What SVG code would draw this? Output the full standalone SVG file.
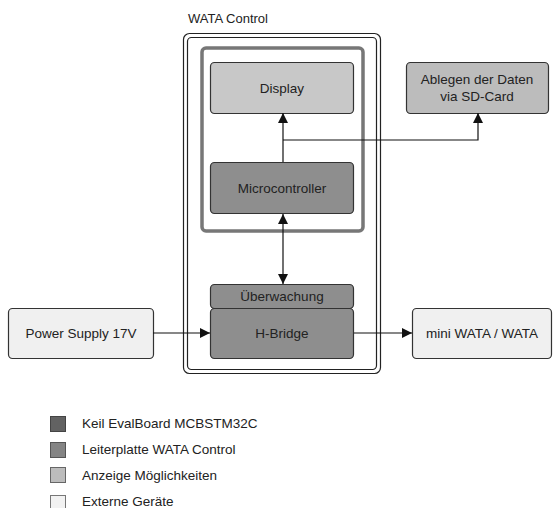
<svg xmlns="http://www.w3.org/2000/svg" width="553" height="508" viewBox="0 0 553 508">
<defs>
<style>
text{font-family:"Liberation Sans",Arial,sans-serif;font-size:13.5px;fill:#222;}
.c{text-anchor:middle;}
.box{stroke:#333;stroke-width:1.2;}
.ext{fill:#f0f0f0;}
.disp{fill:#c8c8c8;}
.sd{fill:#bcbcbc;}
.pcb{fill:#8e8e8e;}
.ln{stroke:#111;stroke-width:1.2;fill:none;}
</style>
<marker id="ah" viewBox="0 0 10 10" refX="10" refY="5" markerWidth="10" markerHeight="10" markerUnits="userSpaceOnUse" orient="auto-start-reverse">
<path d="M0,0 L10,5 L0,10 z" fill="#111"/>
</marker>
</defs>
<rect width="553" height="508" fill="#fff"/>

<g id="wata-control">
<text x="188" y="23" style="font-size:13px">WATA Control</text>
<rect x="183.5" y="33.5" width="197" height="340" rx="6" fill="none" stroke="#222" stroke-width="1.2"/>
<rect x="187.5" y="37.5" width="189" height="332" rx="4" fill="none" stroke="#222" stroke-width="1.2"/>
</g>

<g id="keil-board">
<rect x="202" y="48" width="161" height="183" rx="4" fill="none" stroke="#777" stroke-width="3.5"/>
</g>

<g id="display">
<rect class="box disp" x="210.5" y="62.5" width="143" height="51" rx="4"/>
<text class="c" x="282" y="93">Display</text>
</g>

<g id="microcontroller">
<rect class="box pcb" x="210.5" y="162.5" width="143" height="51" rx="4"/>
<text class="c" x="282" y="193">Microcontroller</text>
</g>

<g id="sdcard">
<rect class="box sd" x="406.5" y="62.5" width="142" height="51" rx="4"/>
<text class="c" x="477" y="84">Ablegen der Daten</text>
<text class="c" x="477" y="101">via SD-Card</text>
</g>

<g id="ueberwachung">
<rect class="box pcb" x="210.5" y="284.5" width="143" height="24" rx="4"/>
<text class="c" x="282" y="301">Überwachung</text>
</g>

<g id="hbridge">
<rect class="box pcb" x="210.5" y="308.5" width="143" height="50" rx="4"/>
<text class="c" x="282" y="338">H-Bridge</text>
</g>

<g id="power">
<rect class="box ext" x="8.5" y="308.5" width="145" height="50" rx="4"/>
<text class="c" x="81" y="338">Power Supply 17V</text>
</g>

<g id="miniwata">
<rect class="box ext" x="412.5" y="308.5" width="139" height="50" rx="4"/>
<text class="c" x="482" y="338">mini WATA / WATA</text>
</g>

<g id="connectors">
<path class="ln" d="M283,162 V113" marker-end="url(#ah)"/>
<path class="ln" d="M283,140 H478 V113" marker-end="url(#ah)"/>
<path class="ln" d="M283,214 V284" marker-start="url(#ah)" marker-end="url(#ah)"/>
<path class="ln" d="M153,333 H210" marker-end="url(#ah)"/>
<path class="ln" d="M354,333 H412" marker-end="url(#ah)"/>
</g>

<g id="legend">
<rect x="50.5" y="416.5" width="15" height="15" fill="#626262" stroke="#444"/>
<text x="82" y="428">Keil EvalBoard MCBSTM32C</text>
<rect x="50.5" y="442.5" width="15" height="15" fill="#848484" stroke="#555"/>
<text x="82" y="454">Leiterplatte WATA Control</text>
<rect x="50.5" y="467.5" width="15" height="15" fill="#bcbcbc" stroke="#666"/>
<text x="82" y="480">Anzeige Möglichkeiten</text>
<rect x="50.5" y="495.5" width="15" height="13" fill="#f2f2f2" stroke="#777"/>
<text x="82" y="506">Externe Geräte</text>
</g>
</svg>
